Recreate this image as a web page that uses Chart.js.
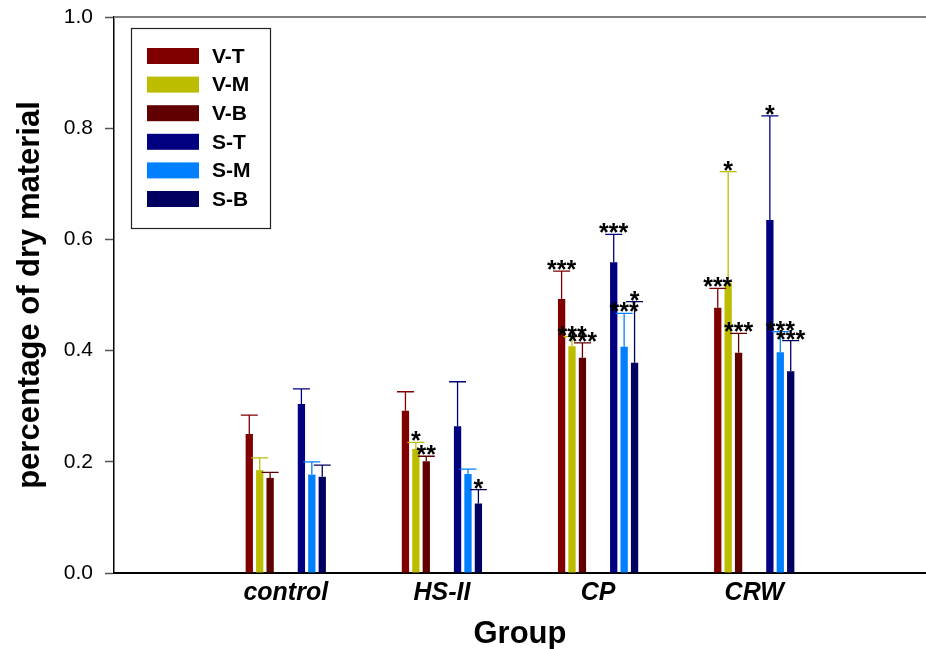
<!DOCTYPE html>
<html>
<head>
<meta charset="utf-8">
<title>percentage of dry material</title>
<script src="https://cdn.jsdelivr.net/npm/chart.js@4.4.1/dist/chart.umd.min.js"></script>
<style>
  html, body { margin: 0; padding: 0; background: #fff; }
  #grafica { display: block; }
</style>
</head>
<body>
<canvas id="grafica" width="926" height="649"></canvas>
<script>
const $grafica = document.querySelector("#grafica");
const fuente = "'Liberation Sans', Arial, Helvetica, sans-serif";

// Grupos del eje X
const grupos = ["control", "HS-II", "CP", "CRW"];

// Medias por serie (fracción de materia seca)
const valVT = [0.250, 0.292, 0.493, 0.477];
const valVM = [0.185, 0.223, 0.408, 0.522];
const valVB = [0.171, 0.201, 0.387, 0.396];
const valST = [0.304, 0.264, 0.559, 0.635];
const valSM = [0.177, 0.178, 0.407, 0.397];
const valSB = [0.173, 0.125, 0.378, 0.363];

// Desviaciones (barra de error superior)
const errVT = [0.034, 0.034, 0.050, 0.035];
const errVM = [0.022, 0.012, 0.017, 0.200];
const errVB = [0.010, 0.009, 0.027, 0.035];
const errST = [0.027, 0.080, 0.050, 0.187];
const errSM = [0.023, 0.009, 0.060, 0.037];
const errSB = [0.021, 0.025, 0.110, 0.055];

// Significancia frente a control
const sigVT = ["", "", "***", "***"];
const sigVM = ["", "*", "***", "*"];
const sigVB = ["", "**", "***", "***"];
const sigST = ["", "", "***", "*"];
const sigSM = ["", "", "***", "***"];
const sigSB = ["", "*", "*", "***"];

// Marcas del eje Y
const marcasY = [0, 0.2, 0.4, 0.6, 0.8, 1.0];

function serie(label, color, valores, errores, signos) {
    return {
        label: label,
        backgroundColor: color,
        borderWidth: 0,
        data: valores.map((v, i) => ({ x: i + 1, y: v })),
        errores: errores,
        signos: signos,
    };
}

// huecos entre las series V y S
function hueco() {
    return { label: "", data: [], backgroundColor: "rgba(0,0,0,0)", hueco: true };
}

const datasets = [
    serie("V-T", "#800000", valVT, errVT, sigVT),
    serie("V-M", "#bdbd00", valVM, errVM, sigVM),
    serie("V-B", "#600000", valVB, errVB, sigVB),
    hueco(),
    hueco(),
    serie("S-T", "#000080", valST, errST, sigST),
    serie("S-M", "#0080ff", valSM, errSM, sigSM),
    serie("S-B", "#000060", valSB, errSB, sigSB),
];

// barras de error + asteriscos
const barrasError = {
    id: "barrasError",
    afterDatasetsDraw(chart) {
        const ctx = chart.ctx;
        const escalaY = chart.scales.y;
        const textos = [];
        chart.data.datasets.forEach((ds, di) => {
            if (!ds.errores) return;
            const meta = chart.getDatasetMeta(di);
            meta.data.forEach((barra, i) => {
                const tope = escalaY.getPixelForValue(ds.data[i].y + ds.errores[i]);
                ctx.save();
                ctx.strokeStyle = ds.backgroundColor;
                ctx.lineWidth = 1.3;
                ctx.beginPath();
                ctx.moveTo(barra.x, barra.y);
                ctx.lineTo(barra.x, tope);
                ctx.moveTo(barra.x - 8.5, tope);
                ctx.lineTo(barra.x + 8.5, tope);
                ctx.stroke();
                ctx.restore();
                if (ds.signos[i]) textos.push([ds.signos[i], barra.x, tope]);
            });
        });
        ctx.save();
        ctx.fillStyle = "#000";
        ctx.font = "bold 25px " + fuente;
        ctx.textAlign = "center";
        ctx.textBaseline = "alphabetic";
        textos.forEach(([t, x, y]) => ctx.fillText(t, x, y + 7));
        ctx.restore();
    }
};

// línea superior del marco
const marcoSuperior = {
    id: "marcoSuperior",
    afterDraw(chart) {
        const { ctx, chartArea } = chart;
        ctx.save();
        ctx.strokeStyle = "#808080";
        ctx.lineWidth = 2;
        ctx.beginPath();
        ctx.moveTo(chartArea.left, chartArea.top);
        ctx.lineTo(chartArea.right, chartArea.top);
        ctx.stroke();
        ctx.restore();
    }
};

// leyenda en recuadro dentro del área
const leyenda = {
    id: "leyenda",
    afterDraw(chart, args, opts) {
        const ctx = chart.ctx;
        ctx.save();
        ctx.strokeStyle = "#222";
        ctx.lineWidth = 1.2;
        ctx.strokeRect(opts.x + 0.5, opts.y + 0.5, opts.w, opts.h);
        ctx.font = "bold 21px " + fuente;
        ctx.textBaseline = "middle";
        ctx.textAlign = "left";
        let fila = 0;
        chart.data.datasets.forEach(ds => {
            if (ds.hueco) return;
            const yc = opts.y + 28 + fila * 28.6;
            ctx.fillStyle = ds.backgroundColor;
            ctx.fillRect(opts.x + 16, yc - 8, 52, 16);
            ctx.fillStyle = "#000";
            ctx.fillText(ds.label, opts.x + 81, yc + 1);
            fila++;
        });
        ctx.restore();
    }
};

new Chart($grafica, {
    type: "bar",
    data: { datasets: datasets },
    plugins: [barrasError, marcoSuperior, leyenda],
    options: {
        responsive: false,
        animation: false,
        layout: { padding: { top: 17, left: 0, right: 0, bottom: 0 } },
        datasets: {
            bar: { categoryPercentage: 0.534, barPercentage: 0.7 }
        },
        plugins: {
            legend: { display: false },
            tooltip: { enabled: false },
            leyenda: { x: 131, y: 28, w: 139, h: 200 },
        },
        scales: {
            x: {
                type: "linear",
                min: -0.1,
                max: 5.1,
                offset: false,
                afterBuildTicks: s => { s.ticks = grupos.map((g, i) => ({ value: i + 1 })); },
                afterFit: s => { s.height = 76; },
                grid: { display: false },
                border: { color: "#000", width: 2 },
                ticks: {
                    callback: v => grupos[v - 1],
                    font: { family: fuente, size: 25, style: "italic", weight: "bold" },
                    color: "#000",
                    padding: -3,
                    autoSkip: false,
                    maxRotation: 0,
                },
                title: {
                    display: true,
                    text: "Group",
                    font: { family: fuente, size: 31, weight: "bold" },
                    color: "#000",
                    padding: { top: 0, bottom: -4 },
                },
            },
            y: {
                min: 0,
                max: 1,
                afterBuildTicks: s => { s.ticks = marcasY.map(v => ({ value: v })); },
                afterFit: s => { s.width = 114; s.paddingTop = 0; s.paddingBottom = 0; },
                grid: { drawOnChartArea: false, tickLength: 9, tickColor: "#555", tickWidth: 1.5 },
                border: { color: "#000", width: 1.5 },
                ticks: {
                    callback: v => v.toFixed(1),
                    font: { family: fuente, size: 21 },
                    color: "#000",
                    padding: 12,
                },
                title: {
                    display: true,
                    text: "percentage of dry material",
                    font: { family: fuente, size: 31, weight: "bold" },
                    color: "#000",
                    padding: { top: 12, bottom: 0 },
                },
            },
        },
    },
});
</script>
</body>
</html>
